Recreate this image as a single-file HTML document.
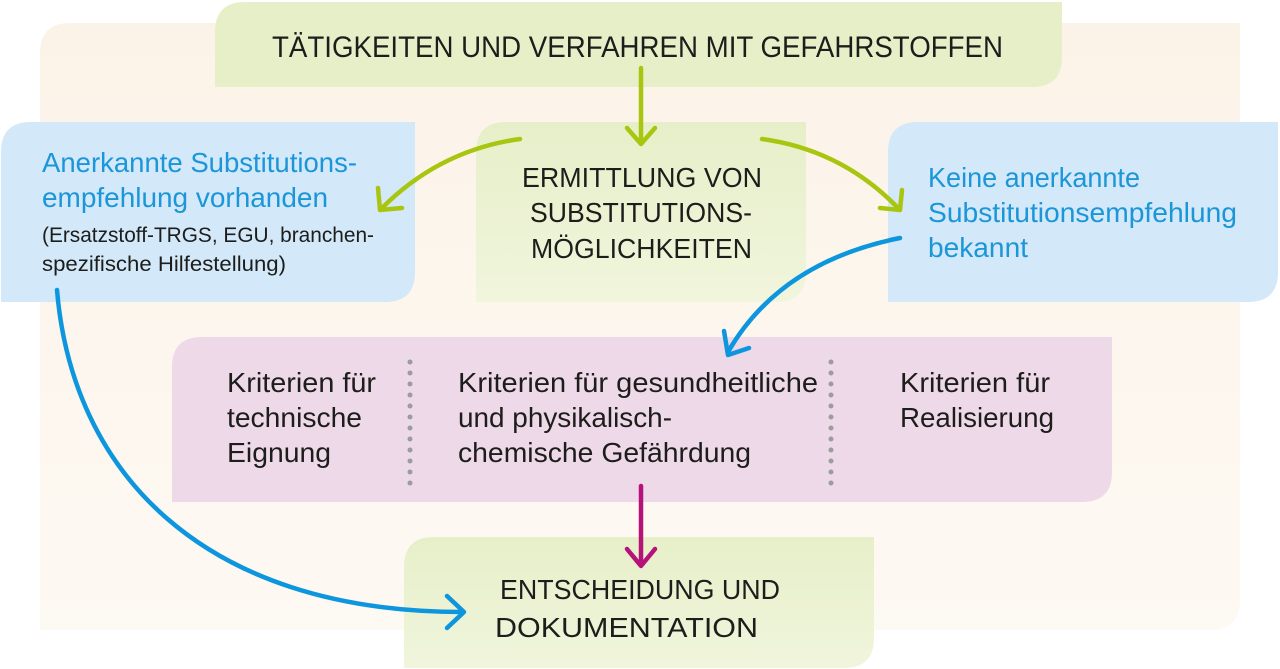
<!DOCTYPE html>
<html><head><meta charset="utf-8"><style>
html,body{margin:0;padding:0;background:#fff;}
svg{display:block;}
text{font-family:"Liberation Sans Narrow","Liberation Sans",sans-serif;fill:#1d1d1b;}
</style></head><body>
<svg width="1280" height="669" viewBox="0 0 1280 669" xmlns="http://www.w3.org/2000/svg">
<defs>
<linearGradient id="bg" x1="0" y1="0" x2="0" y2="1"><stop offset="0" stop-color="#fcf3e8"/><stop offset="1" stop-color="#fdf9f3"/></linearGradient>
<linearGradient id="gr" x1="0" y1="0" x2="0" y2="1"><stop offset="0" stop-color="#e7efc9"/><stop offset="1" stop-color="#f0f5dc"/></linearGradient>
</defs>
<path d="M70,23 H1240 V600 Q1240,630 1210,630 H40 V53 Q40,23 70,23 Z" fill="url(#bg)"/>
<path d="M245,2 H1062 V57 Q1062,87 1032,87 H215 V32 Q215,2 245,2 Z" fill="#e7efc9"/>
<text x="272" y="57" font-size="30" textLength="731" lengthAdjust="spacingAndGlyphs">TÄTIGKEITEN UND VERFAHREN MIT GEFAHRSTOFFEN</text>
<path d="M31,122 H415 V272 Q415,302 385,302 H1 V152 Q1,122 31,122 Z" fill="#d3e8f8"/>
<text x="42" y="172" font-size="28" style="fill:#1a96d9" textLength="315" lengthAdjust="spacingAndGlyphs">Anerkannte Substitutions-</text>
<text x="42" y="207" font-size="28" style="fill:#1a96d9" textLength="286" lengthAdjust="spacingAndGlyphs">empfehlung vorhanden</text>
<text x="42" y="242" font-size="21" textLength="332" lengthAdjust="spacingAndGlyphs">(Ersatzstoff-TRGS, EGU, branchen-</text>
<text x="42" y="271" font-size="21" textLength="244" lengthAdjust="spacingAndGlyphs">spezifische Hilfestellung)</text>
<path d="M506,122 H806 V272 Q806,302 776,302 H476 V152 Q476,122 506,122 Z" fill="url(#gr)"/>
<text x="522" y="187" font-size="28" textLength="240" lengthAdjust="spacingAndGlyphs">ERMITTLUNG VON</text>
<text x="530" y="222" font-size="28" textLength="222" lengthAdjust="spacingAndGlyphs">SUBSTITUTIONS-</text>
<text x="531" y="258" font-size="28" textLength="221" lengthAdjust="spacingAndGlyphs">MÖGLICHKEITEN</text>
<path d="M918,122 H1278 V272 Q1278,302 1248,302 H888 V152 Q888,122 918,122 Z" fill="#d3e8f8"/>
<text x="928" y="187" font-size="28" style="fill:#1a96d9" textLength="212" lengthAdjust="spacingAndGlyphs">Keine anerkannte</text>
<text x="928" y="222" font-size="28" style="fill:#1a96d9" textLength="309" lengthAdjust="spacingAndGlyphs">Substitutionsempfehlung</text>
<text x="928" y="257" font-size="28" style="fill:#1a96d9" textLength="100" lengthAdjust="spacingAndGlyphs">bekannt</text>
<path d="M202,337 H1112 V472 Q1112,502 1082,502 H172 V367 Q172,337 202,337 Z" fill="#eed9e8"/>
<g fill="#9c9c9c">
<circle cx="410" cy="362" r="2.5"/><circle cx="410" cy="373" r="2.5"/><circle cx="410" cy="384" r="2.5"/><circle cx="410" cy="395" r="2.5"/><circle cx="410" cy="406" r="2.5"/><circle cx="410" cy="417" r="2.5"/><circle cx="410" cy="428" r="2.5"/><circle cx="410" cy="439" r="2.5"/><circle cx="410" cy="450" r="2.5"/><circle cx="410" cy="461" r="2.5"/><circle cx="410" cy="472" r="2.5"/><circle cx="410" cy="483" r="2.5"/>
<circle cx="831" cy="362" r="2.5"/><circle cx="831" cy="373" r="2.5"/><circle cx="831" cy="384" r="2.5"/><circle cx="831" cy="395" r="2.5"/><circle cx="831" cy="406" r="2.5"/><circle cx="831" cy="417" r="2.5"/><circle cx="831" cy="428" r="2.5"/><circle cx="831" cy="439" r="2.5"/><circle cx="831" cy="450" r="2.5"/><circle cx="831" cy="461" r="2.5"/><circle cx="831" cy="472" r="2.5"/><circle cx="831" cy="483" r="2.5"/>
</g>
<text x="227" y="392" font-size="28" textLength="149" lengthAdjust="spacingAndGlyphs">Kriterien für</text>
<text x="227" y="427" font-size="28" textLength="135" lengthAdjust="spacingAndGlyphs">technische</text>
<text x="227" y="462" font-size="28" textLength="104" lengthAdjust="spacingAndGlyphs">Eignung</text>
<text x="458" y="392" font-size="28" textLength="360" lengthAdjust="spacingAndGlyphs">Kriterien für gesundheitliche</text>
<text x="458" y="427" font-size="28" textLength="214" lengthAdjust="spacingAndGlyphs">und physikalisch-</text>
<text x="458" y="462" font-size="28" textLength="293" lengthAdjust="spacingAndGlyphs">chemische Gefährdung</text>
<text x="900" y="392" font-size="28" textLength="150" lengthAdjust="spacingAndGlyphs">Kriterien für</text>
<text x="900" y="427" font-size="28" textLength="154" lengthAdjust="spacingAndGlyphs">Realisierung</text>
<path d="M434,537 H874 V638 Q874,668 844,668 H404 V567 Q404,537 434,537 Z" fill="url(#gr)"/>
<text x="500" y="599" font-size="28" textLength="280" lengthAdjust="spacingAndGlyphs">ENTSCHEIDUNG UND</text>
<text x="495" y="637" font-size="28" textLength="263" lengthAdjust="spacingAndGlyphs">DOKUMENTATION</text>
<g fill="none" stroke-linecap="round" stroke-linejoin="round" stroke-width="4.5">
<path d="M641,68 V142" stroke="#a8c50f"/>
<path d="M627,128 L641,144 L655,128" stroke="#a8c50f"/>
<path d="M520,139 Q440,150 382,208" stroke="#a8c50f"/>
<path d="M378,188 L380,210 L402,208" stroke="#a8c50f"/>
<path d="M762,139 Q842,150 898,208" stroke="#a8c50f"/>
<path d="M880,208 L900,210 L902,190" stroke="#a8c50f"/>
<path d="M900,238 Q780,262 728,352" stroke="#0d96dd"/>
<path d="M724,331 L728,355 L749,348" stroke="#0d96dd"/>
<path d="M57,290 C72,470 200,612 463,612" stroke="#0d96dd"/>
<path d="M447,596 L464,612 L447,628" stroke="#0d96dd"/>
<path d="M641,486 V565" stroke="#b5137a"/>
<path d="M627,549 L641,566 L655,549" stroke="#b5137a"/>
</g>
</svg>
</body></html>
